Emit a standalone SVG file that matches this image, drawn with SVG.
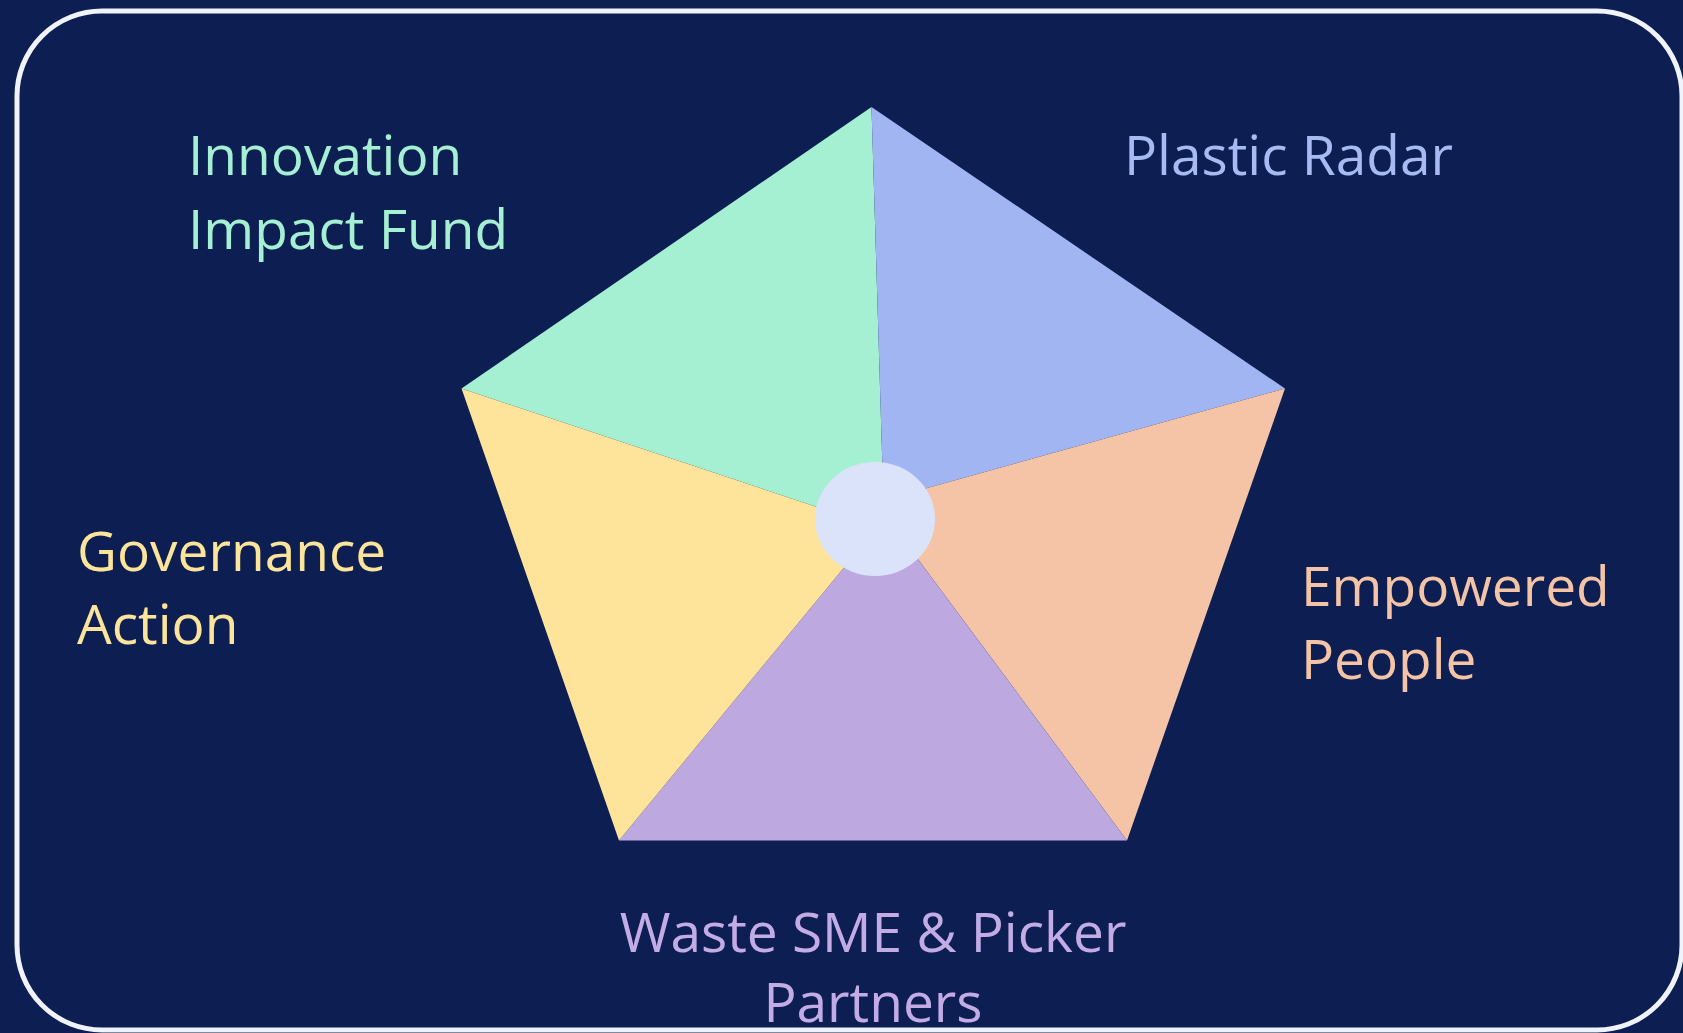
<svg xmlns="http://www.w3.org/2000/svg" width="1683" height="1033" viewBox="0 0 1683 1033">
<style>
.lbl{font-family:"Open Sans","Noto Sans","Liberation Sans",sans-serif;font-size:55px;}
</style>
<rect x="0" y="0" width="1683" height="1033" fill="#0C1E52"/>
<g id="pentagon">
<g id="seg-innovation"><polygon points="871.5,107 884,519 880,528 461.5,388.5" fill="#A5EFD3"/></g>
<g id="seg-plastic"><polygon points="871.5,107 1285,388.5 884,500 884,519" fill="#A0B5F2"/></g>
<g id="seg-empowered"><polygon points="1285,388.5 1127,840.5 888,519 884,500" fill="#F5C4A7"/></g>
<g id="seg-waste"><polygon points="1127,840.5 619,840.5 884,519 888,519" fill="#BDA9E0"/></g>
<g id="seg-governance"><polygon points="619,840.5 461.5,388.5 880,528 884,519" fill="#FDE49A"/></g>
<g id="hub"><ellipse cx="875" cy="519" rx="60" ry="57" fill="#DBE3FB"/></g>
</g>
<g id="connectors"></g>
<g id="label-innovation"><text class="lbl" fill="#A5EFD3" x="188" y="175">Innovation</text><text class="lbl" fill="#A5EFD3" x="188" y="249">Impact Fund</text></g>
<g id="label-plastic"><text class="lbl" fill="#A7BBF2" x="1124" y="175">Plastic Radar</text></g>
<g id="label-governance"><text class="lbl" fill="#FCE49A" x="77" y="571">Governance</text><text class="lbl" fill="#FCE49A" x="77" y="644">Action</text></g>
<g id="label-empowered"><text class="lbl" fill="#F5C4A7" x="1301" y="606">Empowered</text><text class="lbl" fill="#F5C4A7" x="1301" y="679">People</text></g>
<g id="label-waste"><text class="lbl" fill="#C3ACE6" x="873" y="952" text-anchor="middle">Waste SME &amp; Picker</text><text class="lbl" fill="#C3ACE6" x="873" y="1022" text-anchor="middle">Partners</text></g>
<g id="frame"><rect x="17" y="11" width="1665" height="1019" rx="85" ry="85" fill="none" stroke="#F0F3FA" stroke-width="5"/></g>
</svg>
